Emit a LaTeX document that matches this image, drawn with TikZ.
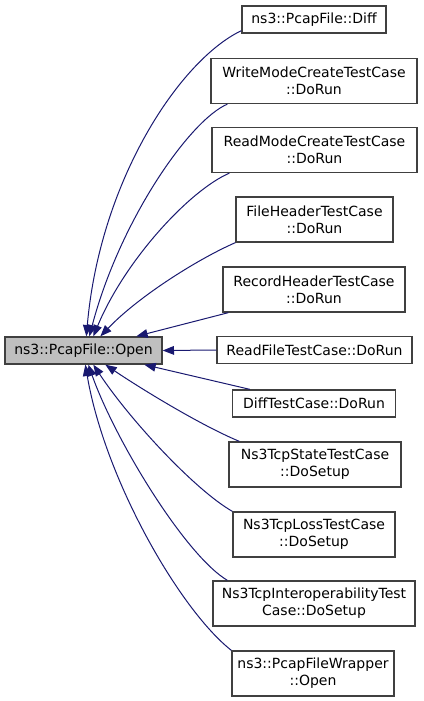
\documentclass[tikz,border=0pt]{standalone}
\usepackage{fontspec}
\setmainfont{DejaVu Sans}
\usetikzlibrary{calc, arrows.meta}

\definecolor{edgeblue}{HTML}{191970}
\definecolor{focusgrey}{HTML}{BFBFBF}

\begin{document}
\begin{tikzpicture}[
            x=0.75pt, y=-0.75pt,
            box/.style={
                draw=black!75, line width=1pt, fill=white, align=center,
                inner sep=0pt, minimum height=27*0.75pt,
                font=\fontsize{10.5}{12.9}\selectfont
            },
            box2/.style={box, minimum height=45*0.75pt},
            boxw/.style={minimum width=#1*0.75pt},
            caller/.style={edgeblue, line width=0.75pt, -{Triangle[length=8.5pt, width=6.5pt]}}
        ]

            \useasboundingbox (0,0) rectangle (424,701);

            \node[box, fill=focusgrey, boxw=157] (open) at (83.5,350.5) {ns3::PcapFile::Open};

            \node[box, boxw=144] (diff) at (314,19.5) {ns3::PcapFile::Diff};
            \node[box2, boxw=206] (write) at (314,81) {WriteModeCreateTestCase\\::DoRun};
            \node[box2, boxw=205] (readmode) at (314.5,150) {ReadModeCreateTestCase\\::DoRun};
            \node[box2, boxw=157] (fhdr) at (314.5,219.5) {FileHeaderTestCase\\::DoRun};
            \node[box2, boxw=182] (rhdr) at (314,289.5) {RecordHeaderTestCase\\::DoRun};
            \node[box, boxw=195] (readfile) at (314.5,350) {ReadFileTestCase::DoRun};
            \node[box, boxw=163] (difftc) at (314,403.5) {DiffTestCase::DoRun};
            \node[box2, boxw=172] (state) at (315,464.5) {Ns3TcpStateTestCase\\::DoSetup};
            \node[box2, boxw=162] (loss) at (314,534.5) {Ns3TcpLossTestCase\\::DoSetup};
            \node[box2, boxw=202] (interop) at (314,603.5) {Ns3TcpInteroperabilityTest\\Case::DoSetup};
            \node[box2, boxw=162] (wrapper) at (313,673.5) {ns3::PcapFileWrapper\\::Open};

            \draw[caller] ($(diff.south west)+(0,-3)$) .. controls (180,60) and (100,180) .. ($(open.north west)+(82,0)$);
            \draw[caller] ($(write.south west)+(17,0)$) .. controls (190,120) and (120,220) .. ($(open.north west)+(85,0)$);
            \draw[caller] ($(readmode.south west)+(18,0)$) .. controls (190,190) and (125,260) .. ($(open.north west)+(89,0)$);
            \draw[caller] (fhdr.south west) .. controls (200,258) and (140,295) .. ($(open.north west)+(96,0)$);
            \draw[caller] ($(rhdr.south west)+(6,0)$) -- ($(open.north west)+(132,0)$);
            \draw[caller] (readfile.west) -- (open.east);
            \draw[caller] ($(difftc.north west)+(18,0)$) -- ($(open.south west)+(140,0)$);
            \draw[caller] ($(state.north west)+(11,0)$) .. controls (200,425) and (140,388) .. ($(open.south west)+(101,0)$);
            \draw[caller] (loss.north west) .. controls (195,490) and (130,420) .. ($(open.south west)+(89,0)$);
            \draw[caller] ($(interop.north west)+(15,0)$) .. controls (185,555) and (115,440) .. ($(open.south west)+(84,0)$);
            \draw[caller] (wrapper.north west) .. controls (180,610) and (105,480) .. ($(open.south west)+(81,0)$);

        \end{tikzpicture}
\end{document}
